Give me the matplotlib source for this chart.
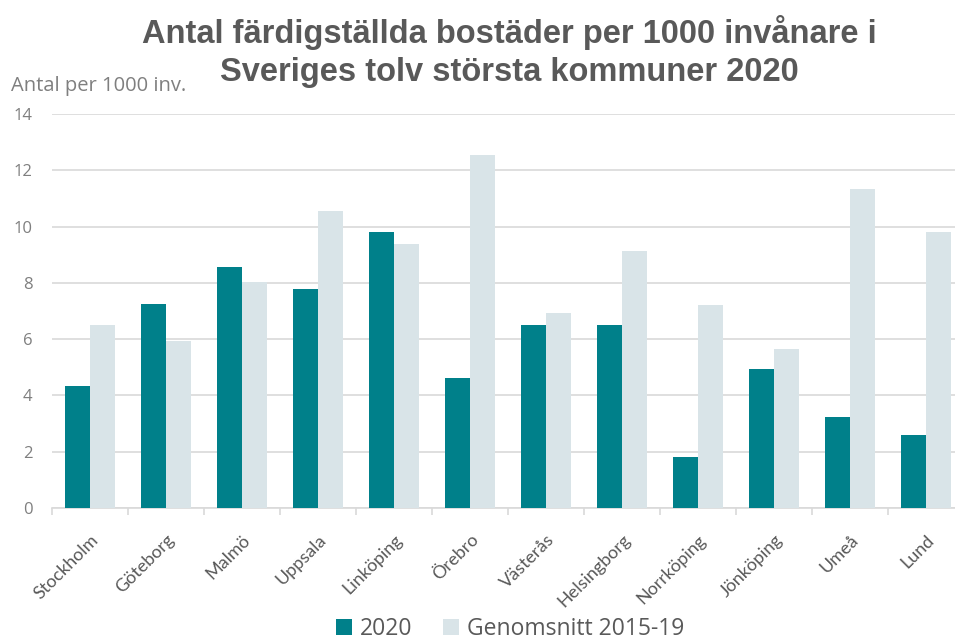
import numpy as np
import matplotlib.pyplot as plt
from matplotlib.ticker import FixedLocator

plt.rcParams['font.family'] = ['Open Sans', 'DejaVu Sans']

kommuner = ['Stockholm', 'Göteborg', 'Malmö', 'Uppsala', 'Linköping', 'Örebro',
            'Västerås', 'Helsingborg', 'Norrköping', 'Jönköping', 'Umeå', 'Lund']
ar_2020 = [4.35, 7.24, 8.56, 7.77, 9.81, 4.62, 6.50, 6.50, 1.81, 4.94, 3.23, 2.59]
snitt_2015_19 = [6.49, 5.93, 8.05, 10.55, 9.38, 12.54, 6.93, 9.13, 7.21, 5.65, 11.34, 9.81]
titelrader = ['Antal färdigställda bostäder per 1000 invånare i',
              'Sveriges tolv största kommuner 2020']

teal = '#00808A'
ljus = '#D9E4E8'
gra = '#595959'

fig = plt.figure(figsize=(9.55, 6.41), dpi=100)
# plotytan går lite utanför bildens högerkant, som i originalet
ax = fig.add_axes([0.0545, 0.2075, 0.955, 0.6145])

x = np.arange(len(kommuner))
w = 0.33
ax.bar(x - w / 2, ar_2020, width=w, color=teal, label='2020', zorder=3)
ax.bar(x + w / 2, snitt_2015_19, width=w, color=ljus, label='Genomsnitt 2015-19', zorder=3)

ax.set_ylim(0, 14)
ax.set_xlim(-0.5, len(kommuner) - 0.5)
ax.set_yticks(range(0, 15, 2))
ax.yaxis.grid(True, color='#D9D9D9', linewidth=1.2, zorder=0)
ax.tick_params(axis='y', length=0, labelsize=12, pad=14)
ax.set_yticklabels([str(v) for v in range(0, 15, 2)], color='#7f7f7f')

ax.set_xticks(x)
ax.set_xticklabels(kommuner, rotation=45, ha='right', rotation_mode='anchor',
                   fontsize=13, color=gra, family=['Lato', 'DejaVu Sans'])
ax.tick_params(axis='x', which='major', length=0, pad=17)
ax.xaxis.set_minor_locator(FixedLocator(np.arange(-0.5, len(kommuner), 1)))
ax.tick_params(axis='x', which='minor', length=5, color='#D9D9D9', width=1.2)

for s in ['top', 'right', 'left']:
    ax.spines[s].set_visible(False)
ax.spines['bottom'].set_color('#D9D9D9')
ax.spines['bottom'].set_linewidth(1.2)

# titeln som två separata rader
for rad, ypos in zip(titelrader, [0.950, 0.887]):
    fig.text(0.533, ypos, rad, ha='center', va='center', fontsize=23.5,
             fontweight='bold', color=gra, family=['Liberation Sans', 'DejaVu Sans'])
fig.text(0.012, 0.866, 'Antal per 1000 inv.', fontsize=14.5, color='#7f7f7f', va='center')

fig.legend(loc='center', bbox_to_anchor=(0.534, 0.018), ncol=2, frameon=False,
           fontsize=16.5, handlelength=0.7, handleheight=0.7, handletextpad=0.35,
           columnspacing=1.35, labelcolor=gra)

fig.savefig('out.png', dpi=100)
